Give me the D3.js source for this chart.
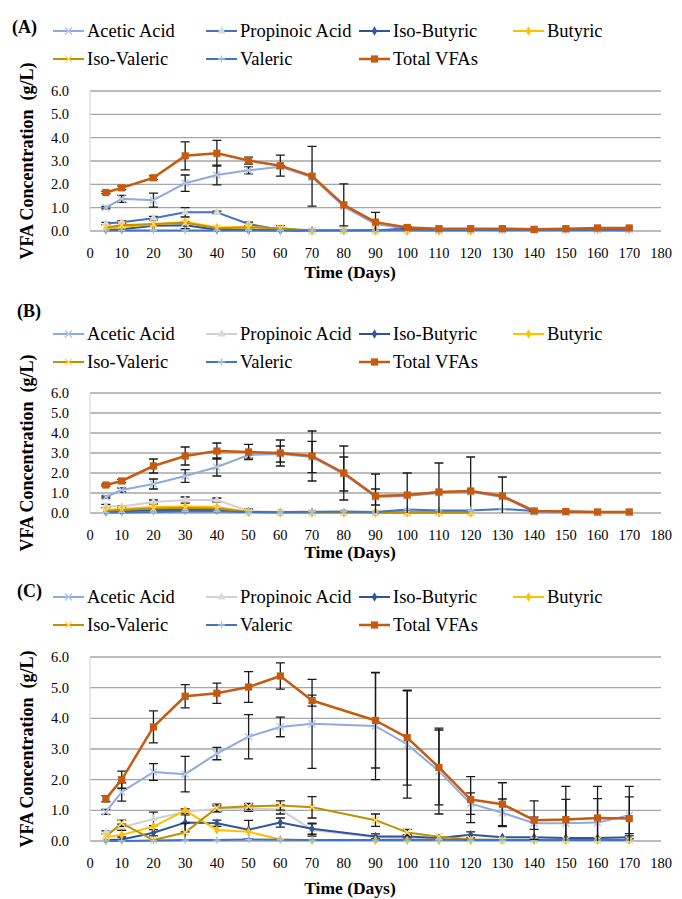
<!DOCTYPE html>
<html>
<head>
<meta charset="utf-8">
<script src="https://cdn.jsdelivr.net/npm/d3@7"></script>
</head>
<body style="margin:0">
<svg id="chart" width="682" height="899" style="display:block;background:#fff"></svg>
<script>
// ---- sampling days and axis ticks ----
const days = [5, 10, 20, 30, 40, 50, 60, 70, 80, 90, 100, 110, 120, 130, 140, 150, 160, 170];
const daysC = [5, 10, 20, 30, 40, 50, 60, 70, 90, 100, 110, 120, 130, 140, 150, 160, 170];
const xTicks = [0, 10, 20, 30, 40, 50, 60, 70, 80, 90, 100, 110, 120, 130, 140, 150, 160, 170, 180];
const yTicks = [0, 1, 2, 3, 4, 5, 6];
const seriesNames = ["Acetic Acid", "Propinoic Acid", "Iso-Butyric", "Butyric", "Iso-Valeric", "Valeric", "Total VFAs"];
const panelLabels = ["(A)", "(B)", "(C)"];

// ---- reactor A (g/L) ----
const acetA   = [1.00, 1.38, 1.32, 2.05, 2.40, 2.60, 2.75, 2.30, 1.05, 0.30, 0.10, 0.06, 0.05, 0.05, 0.04, 0.05, 0.06, 0.06];
const propA   = [0.32, 0.38, 0.55, 0.80, 0.80, 0.30, 0.05, 0.00, 0.00, 0.02, 0.12, 0.06, 0.05, 0.05, 0.04, 0.04, 0.04, 0.03];
const isoButA = [0.05, 0.08, 0.22, 0.25, 0.05, 0.04, 0.03, 0.02, 0.02, 0.02, 0.02, 0.02, 0.02, null, null, null, null, null];
const butA    = [0.10, 0.18, 0.28, 0.40, 0.15, 0.18, 0.10, 0.00, 0.02, 0.00, 0.00, 0.00, 0.00, null, null, null, null, null];
const isoValA = [0.15, 0.25, 0.30, 0.35, 0.12, 0.15, 0.12, 0.02, 0.03, 0.02, 0.01, 0.01, 0.01, null, null, null, null, null];
const valA    = [0.02, 0.02, 0.02, 0.02, 0.02, 0.02, 0.02, 0.02, 0.02, 0.03, 0.05, 0.04, 0.04, 0.03, 0.03, 0.03, 0.03, 0.03];
const totalA  = [1.65, 1.85, 2.28, 3.22, 3.33, 3.02, 2.80, 2.35, 1.12, 0.38, 0.15, 0.10, 0.10, 0.10, 0.07, 0.10, 0.13, 0.13];
const errAcetA  = [0.05, 0.15, 0.30, 0.35, 0.42, 0.15, 0.05, null, null, null, null, null, null, null, null, null, null, null];
const errPropA  = [0.05, 0.05, 0.08, 0.20, 0.05, 0.08, 0.05, null, null, null, null, null, null, null, null, null, null, null];
const errIsoButA = [null, null, null, 0.15, null, null, 0.20, null, null, null, null, null, null, null, null, null, null, null];
const errTotalA = [0.05, 0.08, 0.08, 0.60, 0.55, 0.15, 0.45, 1.28, 0.90, 0.42, 0.05, null, null, null, null, null, null, null];

// ---- reactor B (g/L) ----
const acetB   = [0.80, 1.15, 1.45, 1.85, 2.30, 2.90, 2.95, 2.80, 1.95, 0.80, 0.85, 1.00, 1.05, 0.80, 0.05, 0.04, 0.03, 0.03];
const propB   = [0.35, 0.32, 0.55, 0.65, 0.65, 0.10, 0.05, 0.03, 0.03, 0.02, 0.02, 0.02, 0.02, null, null, null, null, null];
const isoButB = [0.05, 0.08, 0.15, 0.15, 0.15, 0.05, 0.03, 0.03, 0.03, 0.02, 0.02, 0.02, 0.02, null, null, null, null, null];
const butB    = [0.15, 0.20, 0.30, 0.32, 0.30, 0.05, 0.02, 0.01, 0.01, 0.00, 0.00, 0.00, 0.00, null, null, null, null, null];
const isoValB = [0.10, 0.15, 0.22, 0.25, 0.22, 0.05, 0.02, 0.02, 0.02, 0.01, 0.01, 0.01, 0.01, null, null, null, null, null];
const valB    = [0.02, 0.03, 0.05, 0.08, 0.08, 0.05, 0.05, 0.06, 0.07, 0.05, 0.18, 0.13, 0.13, 0.20, 0.10, 0.07, 0.05, 0.05];
const totalB  = [1.40, 1.60, 2.35, 2.85, 3.10, 3.05, 3.00, 2.85, 2.00, 0.85, 0.90, 1.05, 1.10, 0.85, 0.10, 0.07, 0.05, 0.05];
const errAcetB  = [0.05, 0.10, 0.25, 0.32, 0.45, 0.15, 0.40, 0.78, 0.85, 0.40, null, null, 1.75, null, null, null, null, null];
const errPropB  = [0.08, 0.05, 0.10, 0.15, 0.10, 0.10, null, null, null, null, null, null, null, null, null, null, null, null];
const errTotalB = [0.05, 0.08, 0.35, 0.45, 0.40, 0.38, 0.65, 1.25, 1.35, 1.10, 1.10, 1.45, null, 0.95, 0.03, null, null, null];

// ---- reactor C (g/L), no sample on day 80 ----
const acetC   = [0.95, 1.60, 2.25, 2.18, 2.85, 3.40, 3.72, 3.82, 3.75, 3.15, 2.28, 1.22, 0.92, 0.58, 0.58, 0.60, 0.84];
const propC   = [0.28, 0.45, 0.72, 0.95, 1.05, 1.07, 1.03, 0.36, 0.12, 0.08, 0.05, 0.05, 0.04, 0.04, 0.04, 0.04, 0.04];
const isoButC = [0.03, 0.05, 0.27, 0.60, 0.58, 0.37, 0.60, 0.40, 0.15, 0.15, 0.10, 0.20, 0.12, 0.12, 0.10, 0.10, 0.12];
const butC    = [0.12, 0.20, 0.47, 1.00, 0.36, 0.30, 0.05, 0.02, 0.02, 0.02, 0.02, 0.02, 0.02, 0.02, 0.02, 0.02, 0.02];
const isoValC = [0.15, 0.58, 0.03, 0.28, 1.08, 1.13, 1.16, 1.10, 0.68, 0.28, 0.14, 0.05, 0.03, 0.03, 0.03, 0.03, 0.03];
const valC    = [0.00, 0.00, 0.02, 0.03, 0.03, 0.05, 0.04, 0.03, 0.03, 0.03, 0.04, 0.03, 0.03, 0.03, 0.03, 0.03, 0.03];
const totalC  = [1.38, 2.00, 3.72, 4.72, 4.82, 5.02, 5.38, 4.58, 3.93, 3.37, 2.40, 1.35, 1.20, 0.68, 0.70, 0.75, 0.73];
const errAcetC   = [0.08, 0.30, 0.27, 0.58, 0.20, 0.72, 0.32, 1.45, 1.75, 1.75, 1.40, 0.35, 0.45, 0.20, 0.78, 0.78, 0.60];
const errPropC   = [0.05, 0.10, 0.22, 0.10, 0.10, 0.10, 0.15, 0.20, null, null, null, null, null, null, null, null, null];
const errIsoButC = [null, 0.08, 0.10, 0.30, 0.10, 0.30, 0.15, 0.18, 0.08, 0.05, null, 0.10, null, null, null, null, 0.05];
const errIsoValC = [null, 0.10, null, 0.30, 0.12, 0.10, 0.15, 0.35, 0.20, 0.10, null, null, null, null, null, null, null];
const errTotalC  = [0.10, 0.28, 0.52, 0.38, 0.33, 0.50, 0.43, 0.18, 1.55, 1.55, 1.22, 0.75, 0.70, 0.63, 1.08, 1.03, 1.05];

// ---- drawing ----
const svg = d3.select("#chart");
const FONT_TICK = 14.5, FONT_LEG = 18.5, FONT_TITLE = 17.5;
const SERIF = '"Liberation Serif", Tinos, "Nimbus Roman", FreeSerif, "Times New Roman", serif';

// series styling: line colour, marker shape, marker colour
function styles(propColour) {
  return {
    "Acetic Acid":    { line: "#8FAADC", marker: "x",        mcol: "#B4C7E7", w: 2 },
    "Propinoic Acid": { line: propColour, marker: "triangle", mcol: "#D9D9D9", w: 2 },
    "Iso-Butyric":    { line: "#2F5597", marker: "diamond",  mcol: "#2F5597", w: 2 },
    "Butyric":        { line: "#FFC000", marker: "diamond",  mcol: "#FFC000", w: 2 },
    "Iso-Valeric":    { line: "#BF9000", marker: "x",        mcol: "#FFD966", w: 2 },
    "Valeric":        { line: "#4472C4", marker: "plus",     mcol: "#9DC3E6", w: 2 },
    "Total VFAs":     { line: "#C55A11", marker: "square",   mcol: "#C55A11", w: 2.5 }
  };
}

function drawMarker(g, type, x, y, col) {
  const s = 3.6;
  if (type === "square") {
    g.append("rect").attr("x", x - s).attr("y", y - s).attr("width", 2 * s).attr("height", 2 * s).attr("fill", col);
  } else if (type === "diamond") {
    g.append("path").attr("d", d3.symbol(d3.symbolDiamond, 26)()).attr("transform", `translate(${x},${y})`).attr("fill", col);
  } else if (type === "triangle") {
    g.append("path").attr("d", d3.symbol(d3.symbolTriangle, 30)()).attr("transform", `translate(${x},${y})`).attr("fill", col);
  } else if (type === "x") {
    g.append("path").attr("d", `M${x - s},${y - s}L${x + s},${y + s}M${x - s},${y + s}L${x + s},${y - s}`)
      .attr("stroke", col).attr("stroke-width", 1.4);
  } else if (type === "plus") {
    g.append("path").attr("d", `M${x - s},${y}L${x + s},${y}M${x},${y - s}L${x},${y + s}`)
      .attr("stroke", col).attr("stroke-width", 1.4);
  }
}

// plain SVG text element with its own font settings
function label(parent, x, y, str, size, bold, anchor) {
  const t = parent.append("text").attr("x", x).attr("y", y)
    .attr("font-size", size)
    .attr("text-anchor", anchor || "start")
    .style("font-family", SERIF)
    .style("font-weight", bold ? "700" : "400")
    .text(str);
  return t;
}

function drawPanel(p) {
  const g = svg.append("g");
  const x = d3.scaleLinear().domain([0, 180]).range([90, 661]);
  const y = d3.scaleLinear().domain([0, 6]).range([p.y0, p.y6]);
  const st = styles(p.propColour);

  // panel label
  label(g, p.labelX, p.labelY + 6, p.label, 18, true);

  // legend (4 + 3 entries)
  const colX = [53, 206, 359, 513];
  seriesNames.forEach((name, i) => {
    const row = i < 4 ? 0 : 1, col = i < 4 ? i : i - 4;
    const sx = colX[col], sy = p.legendY[row];
    const s = st[name];
    g.append("line").attr("x1", sx).attr("x2", sx + 31).attr("y1", sy).attr("y2", sy)
      .attr("stroke", s.line).attr("stroke-width", s.w);
    drawMarker(g, s.marker, sx + 15.5, sy, s.mcol);
    label(g, sx + 34, sy + 6, name, FONT_LEG, false);
  });

  // gridlines and left axis line
  g.append("g").selectAll("line").data(yTicks).join("line")
    .attr("x1", 90).attr("x2", 661).attr("y1", d => y(d)).attr("y2", d => y(d))
    .attr("stroke", "#A6A6A6").attr("stroke-width", 1.3);
  g.append("line").attr("x1", 90).attr("x2", 90).attr("y1", p.y0).attr("y2", p.y6)
    .attr("stroke", "#D0D0D0").attr("stroke-width", 1);

  // tick labels placed with the scales
  const fmtY = d3.format(".1f"), fmtX = d3.format("d");
  yTicks.forEach(v => label(g, 69, y(v) + 5, fmtY(v), FONT_TICK, false, "end"));
  xTicks.forEach(v => label(g, x(v), p.y0 + 27, fmtX(v), FONT_TICK, false, "middle"));

  // axis titles
  label(g, 350, p.xTitleY, "Time (Days)", FONT_TITLE, true, "middle");
  const yt = g.append("g").attr("transform", `translate(33,${(p.y0 + p.y6) / 2}) rotate(-90)`);
  label(yt, 0, 0, "VFA Concentration\u00A0 (g/L)", 18, true, "middle");

  // series: error bars, line, markers
  const line = d3.line().defined(d => d[1] != null).x(d => x(d[0])).y(d => y(d[1]));
  seriesNames.forEach(name => {
    const vals = p.data[name];
    const errs = p.err[name];
    const s = st[name];
    const pts = p.days.map((d, i) => [d, vals[i]]);
    const sg = g.append("g");
    if (errs) {
      p.days.forEach((d, i) => {
        if (errs[i] == null || vals[i] == null) return;
        const lo = Math.max(0, vals[i] - errs[i]), hi = Math.min(6, vals[i] + errs[i]);
        const cx = x(d);
        sg.append("path")
          .attr("d", `M${cx},${y(lo)}L${cx},${y(hi)}M${cx - 4.5},${y(hi)}L${cx + 4.5},${y(hi)}` +
                     (vals[i] - errs[i] > 0 ? `M${cx - 4.5},${y(lo)}L${cx + 4.5},${y(lo)}` : ""))
          .attr("stroke", "#1a1a1a").attr("stroke-width", 1.3).attr("fill", "none");
      });
    }
    sg.append("path").datum(pts).attr("d", line).attr("fill", "none")
      .attr("stroke", s.line).attr("stroke-width", s.w).attr("stroke-linejoin", "round");
    pts.forEach(pt => { if (pt[1] != null) drawMarker(sg, s.marker, x(pt[0]), y(pt[1]), s.mcol); });
  });
}

drawPanel({
  label: panelLabels[0], labelX: 12, labelY: 27, legendY: [31, 59],
  y0: 231, y6: 91, xTitleY: 278, propColour: "#4472C4", days: days,
  data: { "Acetic Acid": acetA, "Propinoic Acid": propA, "Iso-Butyric": isoButA, "Butyric": butA,
          "Iso-Valeric": isoValA, "Valeric": valA, "Total VFAs": totalA },
  err:  { "Acetic Acid": errAcetA, "Propinoic Acid": errPropA, "Iso-Butyric": errIsoButA, "Total VFAs": errTotalA }
});
drawPanel({
  label: panelLabels[1], labelX: 17, labelY: 311, legendY: [334, 362],
  y0: 513, y6: 393, xTitleY: 558, propColour: "#D0D0D0", days: days,
  data: { "Acetic Acid": acetB, "Propinoic Acid": propB, "Iso-Butyric": isoButB, "Butyric": butB,
          "Iso-Valeric": isoValB, "Valeric": valB, "Total VFAs": totalB },
  err:  { "Acetic Acid": errAcetB, "Propinoic Acid": errPropB, "Total VFAs": errTotalB }
});
drawPanel({
  label: panelLabels[2], labelX: 17, labelY: 591, legendY: [597, 625],
  y0: 841, y6: 657, xTitleY: 894, propColour: "#D0D0D0", days: daysC,
  data: { "Acetic Acid": acetC, "Propinoic Acid": propC, "Iso-Butyric": isoButC, "Butyric": butC,
          "Iso-Valeric": isoValC, "Valeric": valC, "Total VFAs": totalC },
  err:  { "Acetic Acid": errAcetC, "Propinoic Acid": errPropC, "Iso-Butyric": errIsoButC,
          "Iso-Valeric": errIsoValC, "Total VFAs": errTotalC }
});
</script>
</body>
</html>
